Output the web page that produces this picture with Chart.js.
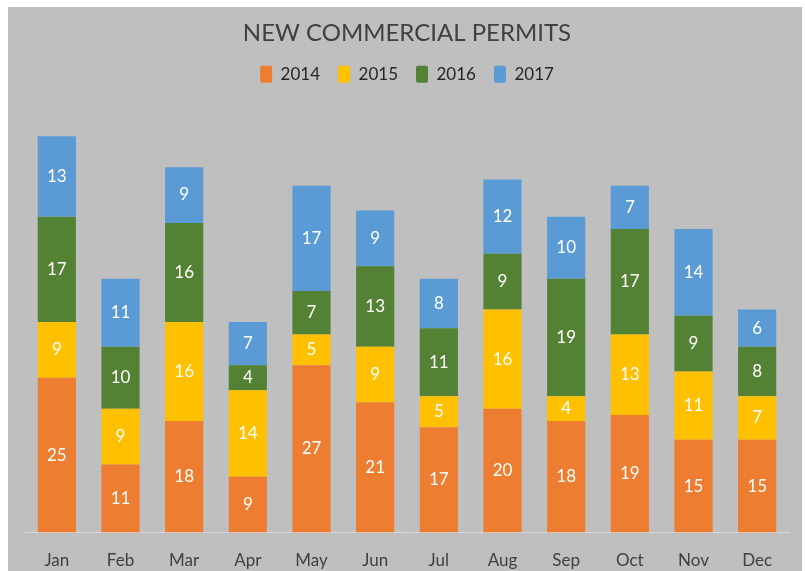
<!DOCTYPE html>
<html>
<head>
<meta charset="utf-8">
<script src="https://cdn.jsdelivr.net/npm/chart.js@4"></script>
<style>
  html, body { margin: 0; padding: 0; background: #ffffff; }
  #wrap { position: absolute; left: 8px; top: 7px; width: 794px; height: 564px; background: #bfbfbf; }
  canvas { display: block; }
</style>
</head>
<body>
<div id="wrap"><canvas id="c" width="794" height="564"></canvas></div>
<script>
const categories = ['Jan','Feb','Mar','Apr','May','Jun','Jul','Aug','Sep','Oct','Nov','Dec'];
const seriesNames = ['2014','2015','2016','2017'];
const s2014 = [25, 11, 18, 9, 27, 21, 17, 20, 18, 19, 15, 15];
const s2015 = [9, 9, 16, 14, 5, 9, 5, 16, 4, 13, 11, 7];
const s2016 = [17, 10, 16, 4, 7, 13, 11, 9, 19, 17, 9, 8];
const s2017 = [13, 11, 9, 7, 17, 9, 8, 12, 10, 7, 14, 6];
const colors = ['#ED7D31', '#FFC000', '#548235', '#5B9BD5'];
const FONT = 'Lato, "Open Sans", sans-serif';

const valueLabels = {
  id: 'valueLabels',
  afterDatasetsDraw(chart) {
    const ctx = chart.ctx;
    ctx.save();
    ctx.fillStyle = '#ffffff';
    ctx.font = '17px ' + FONT;
    ctx.textAlign = 'center';
    ctx.textBaseline = 'middle';
    chart.data.datasets.forEach((ds, i) => {
      const meta = chart.getDatasetMeta(i);
      meta.data.forEach((el, j) => {
        const y = (el.y + el.base) / 2;
        ctx.fillText(String(ds.data[j]), el.x, y);
      });
    });
    ctx.restore();
  }
};

const allSeries = [s2014, s2015, s2016, s2017];
new Chart(document.getElementById('c'), {
  type: 'bar',
  data: {
    labels: categories,
    datasets: allSeries.map((d, i) => ({
      label: seriesNames[i],
      data: d,
      backgroundColor: colors[i],
      borderWidth: 0,
      categoryPercentage: 1,
      barPercentage: 0.6
    }))
  },
  options: {
    responsive: false,
    animation: false,
    layout: { padding: { left: 17, right: 13, bottom: -18, top: 0 } },
    plugins: {
      title: {
        display: true,
        text: 'NEW COMMERCIAL PERMITS',
        color: '#404040',
        font: { family: FONT, size: 24, weight: 'normal' },
        padding: { top: 12, bottom: 0 }
      },
      legend: {
        display: true,
        labels: {
          color: '#262626',
          font: { family: FONT, size: 17 },
          boxWidth: 12,
          boxHeight: 17,
          padding: 18,
          useBorderRadius: true,
          borderRadius: 2
        }
      },
      tooltip: { enabled: false }
    },
    scales: {
      x: {
        stacked: true,
        grid: { display: false, drawTicks: false },
        border: { display: true, color: '#d9d9d9', width: 1 },
        ticks: { color: '#404040', font: { family: FONT, size: 17 }, padding: 18 }
      },
      y: {
        stacked: true,
        display: false,
        min: 0,
        max: 71
      }
    }
  },
  plugins: [valueLabels]
});
</script>
</body>
</html>
